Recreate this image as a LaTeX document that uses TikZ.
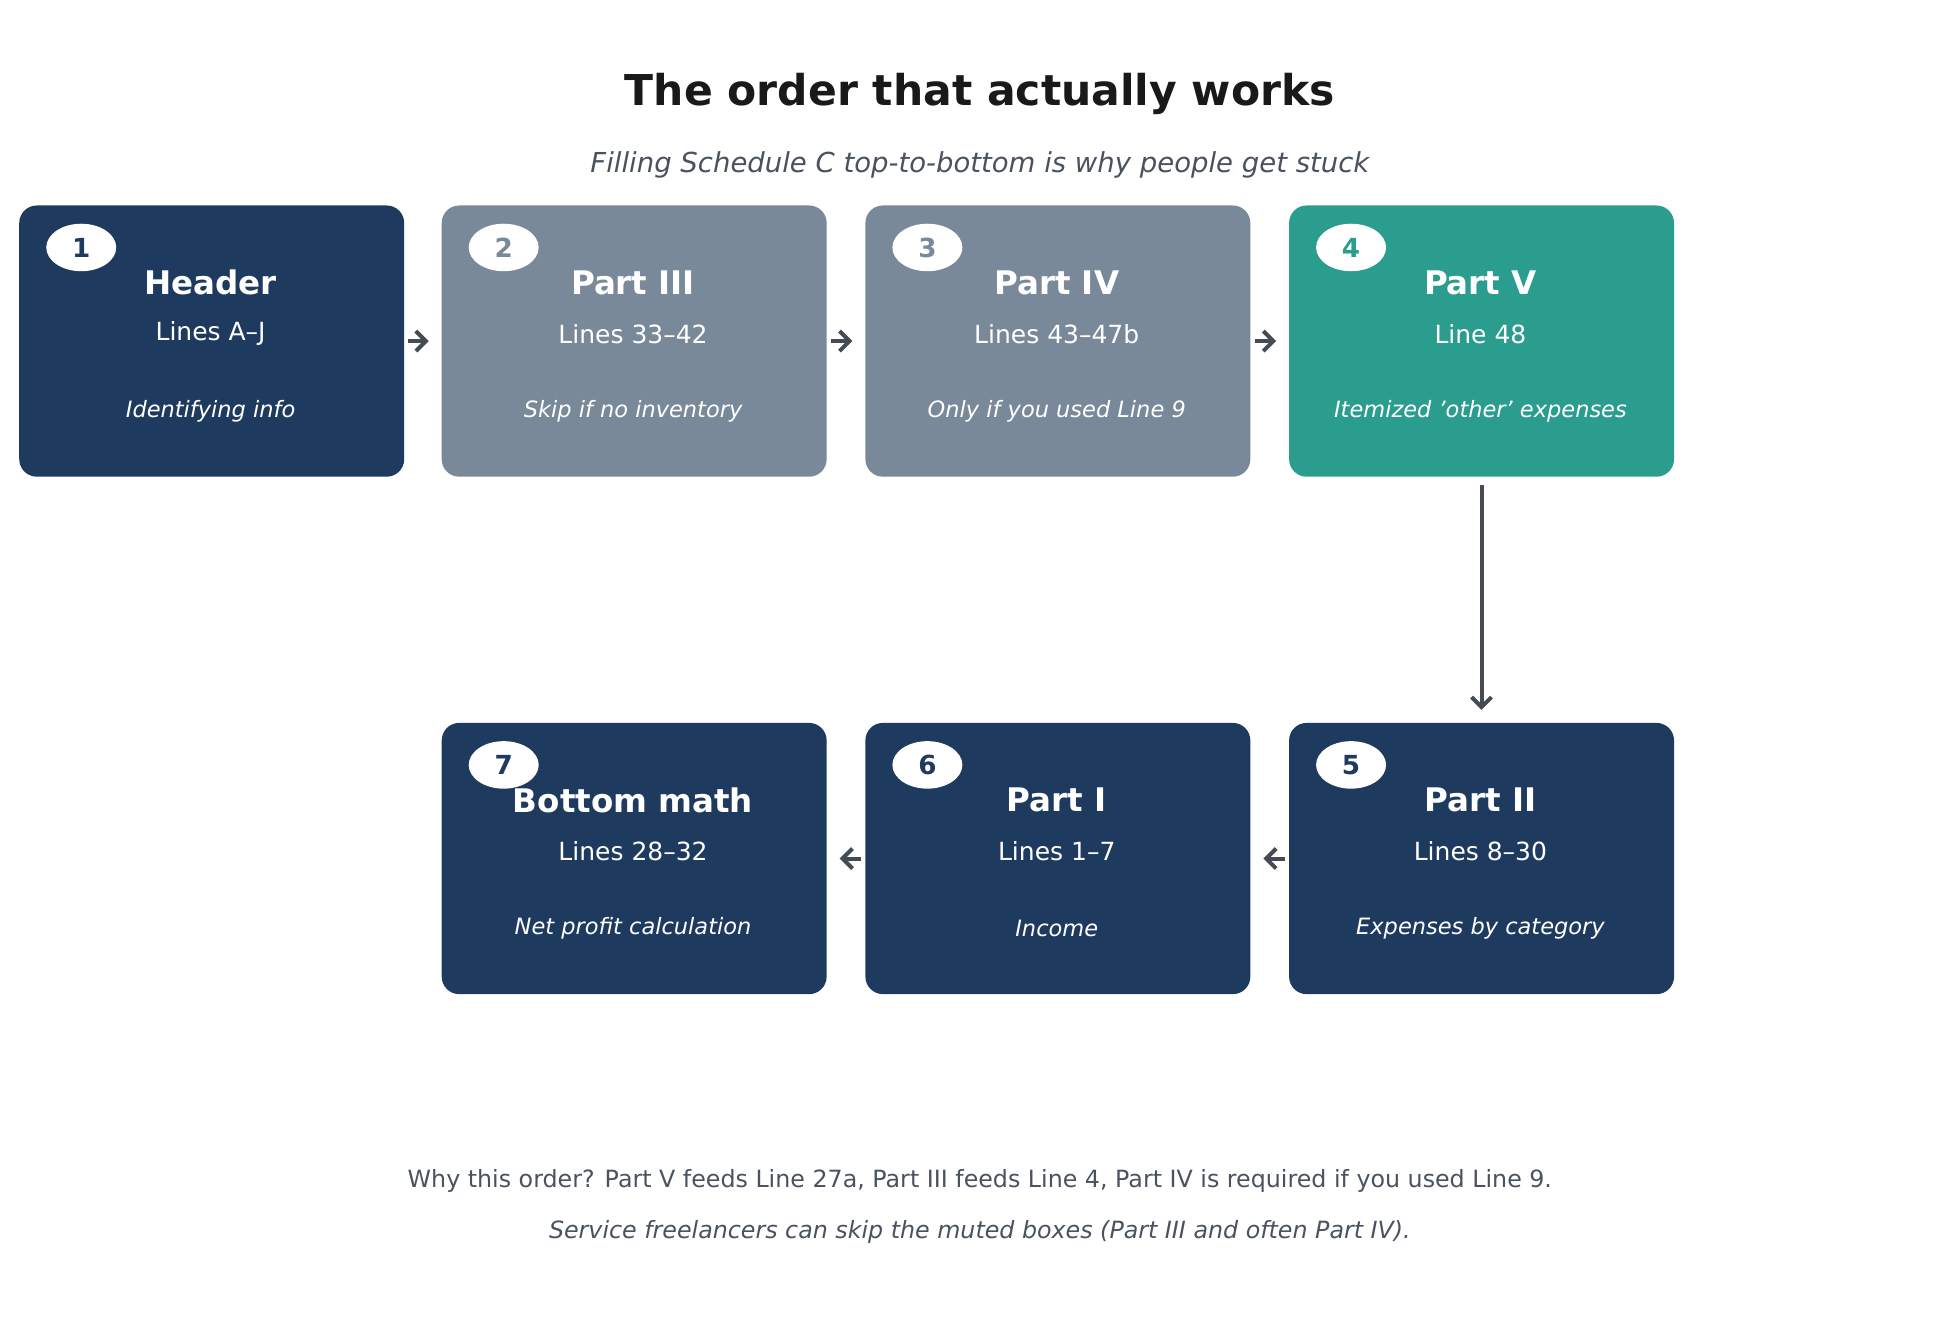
\documentclass[tikz,border=0pt]{standalone}
\usepackage{fontspec}
\setmainfont{DejaVu Sans}
\usepackage{xcolor}
\usetikzlibrary{arrows.meta}
\definecolor{navy}{HTML}{1F3A5F}
\definecolor{muted}{HTML}{7A8999}
\definecolor{teal}{HTML}{2A9D8F}
\definecolor{arrowgray}{HTML}{454B54}
\definecolor{subgray}{HTML}{4A5260}
\tikzset{
    box/.style = {rectangle, rounded corners=7pt, minimum width=154pt, minimum height=108.5pt, inner sep=0pt},
    badge/.style = {ellipse, fill=white, minimum width=28pt, minimum height=19pt, inner sep=0pt, font=\fontsize{10.5}{12}\selectfont\bfseries},
    btitle/.style = {white, font=\fontsize{13}{15}\selectfont\bfseries},
    blines/.style = {white, font=\fontsize{10}{12}\selectfont},
    bnote/.style = {white, font=\fontsize{9}{11}\selectfont\itshape},
    flow/.style = {-{Straight Barb[length=4pt,width=8pt]}, line width=1.6pt, arrowgray}
}
% step: name, left x, top y, colour, number, title, lines, note
\newcommand{\step}[8]{
    \node[box, fill=#4, anchor=north west] (#1) at (#2,#3) {};
    \node[badge, text=#4] (#1n) at ($(#2,#3)+(50,34)$) {#5};
    \node[btitle] (#1t) at ($(#2,#3)+(153.5,62)$) {#6};
    \node[blines] (#1l) at ($(#2,#3)+(153.5,103)$) {#7};
    \node[bnote] (#1i) at ($(#2,#3)+(153.5,165)$) {#8};
}
\usetikzlibrary{calc,shapes.geometric}
\begin{document}
\begin{tikzpicture}[x=0.5pt, y=-0.5pt]
    \useasboundingbox (0,0) rectangle (1565,1061);

    \node[font=\fontsize{17}{20}\selectfont\bfseries, text={black!90}] (title) at (784,75) {The order that actually works};
    \node[font=\fontsize{11}{13}\selectfont\itshape, subgray] (subtitle) at (784,132) {Filling Schedule C top-to-bottom is why people get stuck};

    \step{header}{15}{164}{navy}{1}{Header}{Lines A–J}{Identifying info}
    \step{three}{353}{164}{muted}{2}{Part III}{Lines 33–42}{Skip if no inventory}
    \step{four}{692}{164}{muted}{3}{Part IV}{Lines 43–47b}{Only if you used Line 9}
    \step{five}{1031}{164}{teal}{4}{Part V}{Line 48}{Itemized 'other' expenses}
    \step{two}{1031}{578}{navy}{5}{Part II}{Lines 8–30}{Expenses by category}
    \step{one}{692}{578}{navy}{6}{Part I}{Lines 1–7}{Income}
    \step{bottom}{353}{578}{navy}{7}{Bottom math}{Lines 28–32}{Net profit calculation}

    \draw[flow] ($(header.east)+(3,0)$) -- ($(three.west)+(-10,0)$);
    \draw[flow] ($(three.east)+(3,0)$) -- ($(four.west)+(-10,0)$);
    \draw[flow] ($(four.east)+(3,0)$) -- ($(five.west)+(-10,0)$);
    \draw[flow] ($(five.south)+(0,6)$) -- ($(two.north)+(0,-10)$);
    \draw[flow] ($(two.west)+(-3,0)$) -- ($(one.east)+(10,0)$);
    \draw[flow] ($(one.west)+(-3,0)$) -- ($(bottom.east)+(10,0)$);

    \node[font=\fontsize{9.5}{11}\selectfont, subgray] (why) at (784,945) {Why this order? Part V feeds Line 27a, Part III feeds Line 4, Part IV is required if you used Line 9.};
    \node[font=\fontsize{9.5}{11}\selectfont\itshape, subgray] (skip) at (784,986) {Service freelancers can skip the muted boxes (Part III and often Part IV).};
\end{tikzpicture}
\end{document}
